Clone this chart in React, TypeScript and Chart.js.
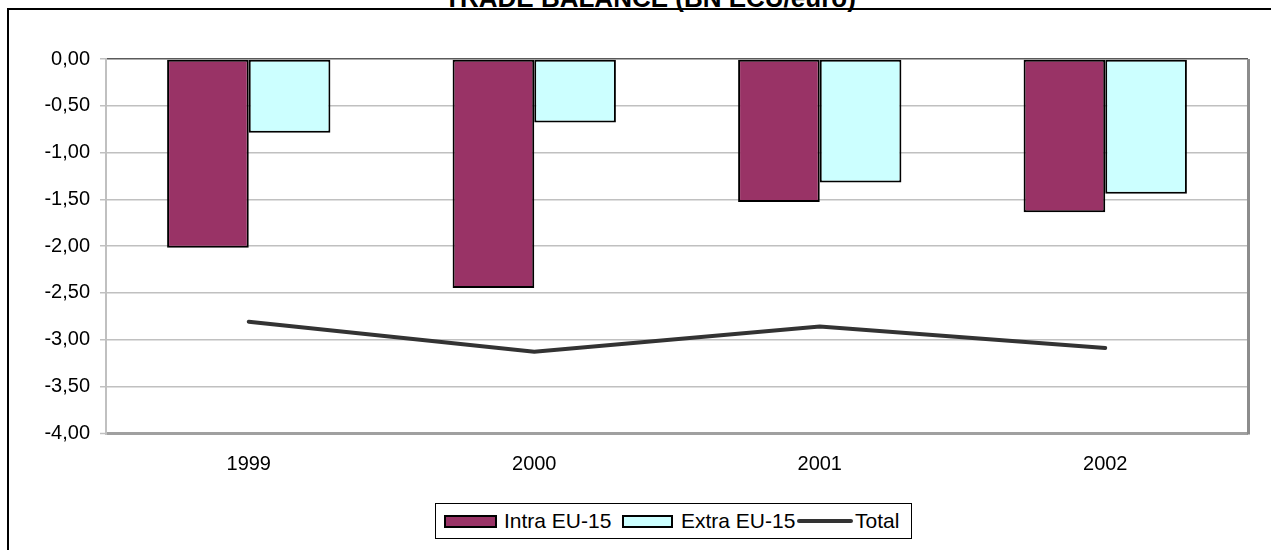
import React, { useEffect, useRef } from "react";
import Chart from "chart.js/auto";

const chartTitle = "TRADE BALANCE (BN ECU/euro)";
const categories = ["1999", "2000", "2001", "2002"];
const seriesNames = ["Intra EU-15", "Extra EU-15", "Total"];
const intraEU15 = [-2.02, -2.45, -1.53, -1.64];
const extraEU15 = [-0.79, -0.68, -1.32, -1.44];
const totalBalance = [-2.81, -3.13, -2.86, -3.09];
const yMin = -4;
const yMax = 0;
const yStep = 0.5;

const FONT = "'Liberation Sans', Arial, sans-serif";
const INTRA_COLOR = "#993366";
const EXTRA_COLOR = "#CCFFFF";
const TOTAL_COLOR = "#333333";

const plotFrame = {
  id: "plotFrame",
  beforeDatasetsDraw(chart: any) {
    const { ctx, chartArea } = chart;
    ctx.save();
    ctx.strokeStyle = "#8c8c8c";
    ctx.lineWidth = 3;
    ctx.beginPath();
    ctx.moveTo(chartArea.right + 0.5, chartArea.top);
    ctx.lineTo(chartArea.right + 0.5, chartArea.bottom + 1.5);
    ctx.stroke();
    ctx.restore();
  },
};

export default function App() {
  const canvasRef = useRef<HTMLCanvasElement | null>(null);

  useEffect(() => {
    if (!canvasRef.current) return;
    const chart = new Chart(canvasRef.current, {
      type: "bar",
      data: {
        labels: categories,
        datasets: [
          {
            type: "bar",
            label: seriesNames[0],
            data: intraEU15,
            backgroundColor: INTRA_COLOR,
            borderColor: "#000000",
            borderWidth: 2,
            borderSkipped: false,
            barPercentage: 1,
            categoryPercentage: 0.572,
            order: 2,
          },
          {
            type: "bar",
            label: seriesNames[1],
            data: extraEU15,
            backgroundColor: EXTRA_COLOR,
            borderColor: "#000000",
            borderWidth: 2,
            borderSkipped: false,
            barPercentage: 1,
            categoryPercentage: 0.572,
            order: 2,
          },
          {
            type: "line",
            label: seriesNames[2],
            data: totalBalance,
            borderColor: TOTAL_COLOR,
            backgroundColor: TOTAL_COLOR,
            borderWidth: 4,
            borderCapStyle: "round",
            pointRadius: 0,
            tension: 0,
            fill: false,
            order: 1,
          },
        ] as any,
      },
      options: {
        animation: false,
        responsive: false,
        maintainAspectRatio: false,
        layout: { padding: { left: 0, right: 23, top: 59, bottom: 57 } },
        plugins: {
          legend: { display: false },
          title: { display: false },
          tooltip: { enabled: false },
        },
        scales: {
          x: {
            grid: { display: false, drawTicks: false },
            border: { display: false },
            ticks: {
              color: "#000000",
              font: { family: FONT, size: 20 },
              padding: 19,
            },
            afterFit: (s: any) => {
              s.height = 60;
            },
          },
          y: {
            min: yMin,
            max: yMax,
            ticks: {
              stepSize: yStep,
              color: "#000000",
              font: { family: FONT, size: 20 },
              padding: 10,
              callback: (v: any) => {
                const n = Number(v);
                const s = Math.abs(n) < 1e-9 ? "0.00" : n.toFixed(2);
                return s.replace(".", ",");
              },
            },
            grid: {
              color: (c: any) => {
                const v = c.tick ? c.tick.value : 0;
                if (Math.abs(v - yMax) < 1e-9) return "#5a5a5a";
                if (Math.abs(v - yMin) < 1e-9) return "#a0a0a0";
                return "#c0c0c0";
              },
              lineWidth: (c: any) => {
                const v = c.tick ? c.tick.value : 0;
                if (Math.abs(v - yMin) < 1e-9) return 3;
                return 1.5;
              },
              tickLength: 6,
              tickColor: "#c0c0c0",
              tickWidth: 1.5,
            },
            border: { display: true, color: "#c0c0c0", width: 2 },
            afterFit: (s: any) => {
              s.width = 106;
            },
          },
        },
      } as any,
      plugins: [plotFrame],
    });
    return () => chart.destroy();
  }, []);

  const legendText: React.CSSProperties = {
    position: "absolute",
    top: 0,
    height: 34,
    lineHeight: "34px",
    fontFamily: FONT,
    fontSize: 21,
    color: "#000",
    whiteSpace: "nowrap",
  };

  return (
    <div
      style={{
        position: "fixed",
        left: 0,
        top: 0,
        width: 1271,
        height: 550,
        overflow: "hidden",
        background: "#ffffff",
      }}
    >
      <div
        style={{
          position: "absolute",
          left: 7,
          top: 8,
          width: 1300,
          height: 600,
          border: "2px solid #000",
          boxSizing: "border-box",
        }}
      />
      <div
        style={{
          position: "absolute",
          left: 250,
          width: 800,
          top: -15,
          height: 26,
          lineHeight: "26px",
          textAlign: "center",
          fontFamily: FONT,
          fontWeight: "bold",
          fontSize: 26,
          color: "#000",
          whiteSpace: "nowrap",
        }}
      >
        {chartTitle}
      </div>
      <canvas
        ref={canvasRef}
        width={1271}
        height={550}
        style={{ position: "absolute", left: 0, top: 0, width: 1271, height: 550 }}
      />
      <div
        style={{
          position: "absolute",
          left: 435,
          top: 503,
          width: 477,
          height: 36,
          border: "1px solid #000",
          boxSizing: "border-box",
          background: "#fff",
        }}
      >
        <div
          style={{
            position: "absolute",
            left: 8,
            top: 11,
            width: 53,
            height: 13,
            background: INTRA_COLOR,
            border: "2px solid #000",
            boxSizing: "border-box",
          }}
        />
        <div style={{ ...legendText, left: 68 }}>{seriesNames[0]}</div>
        <div
          style={{
            position: "absolute",
            left: 186,
            top: 11,
            width: 51,
            height: 13,
            background: EXTRA_COLOR,
            border: "2px solid #000",
            boxSizing: "border-box",
          }}
        />
        <div style={{ ...legendText, left: 245 }}>{seriesNames[1]}</div>
        <div
          style={{
            position: "absolute",
            left: 361,
            top: 15,
            width: 56,
            height: 4,
            borderRadius: 2,
            background: TOTAL_COLOR,
          }}
        />
        <div style={{ ...legendText, left: 419 }}>{seriesNames[2]}</div>
      </div>
    </div>
  );
}
